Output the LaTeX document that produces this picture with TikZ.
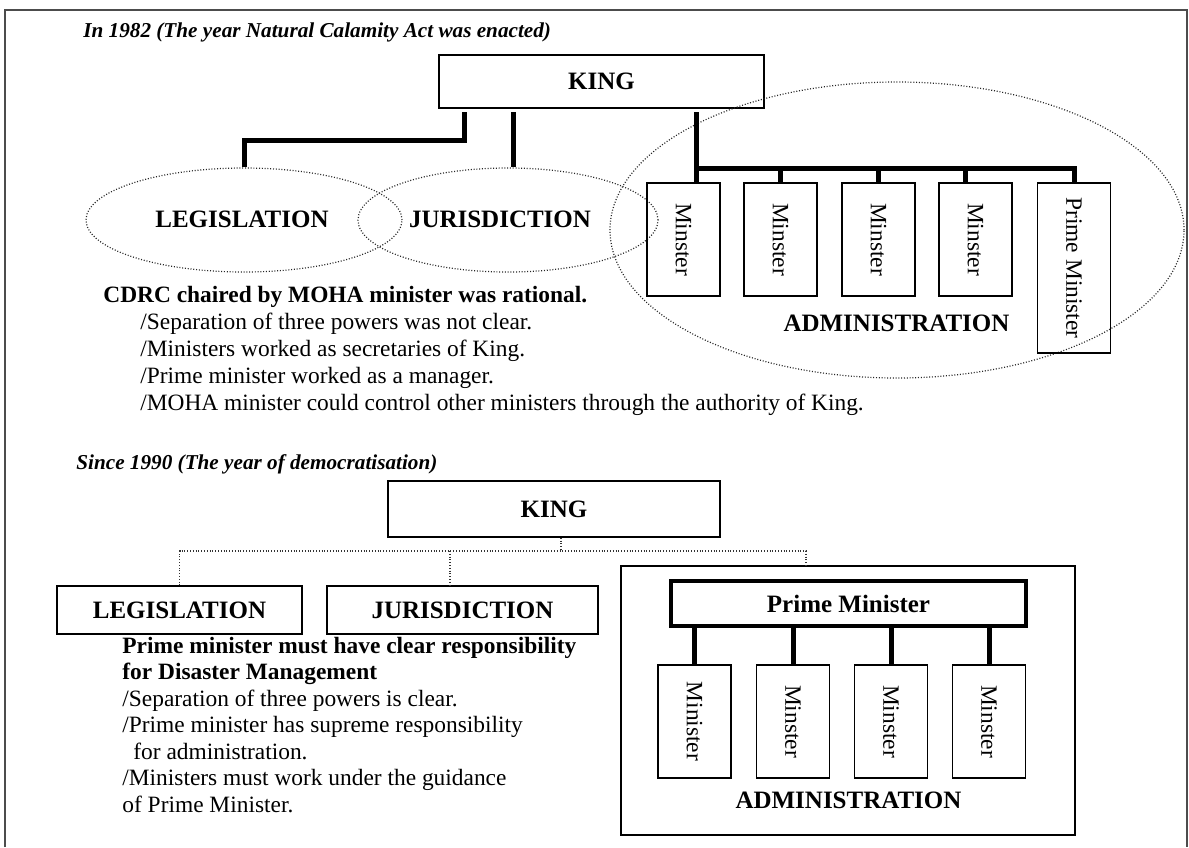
\documentclass[tikz,border=0pt]{standalone}
\usepackage{fontspec}
\setmainfont{Liberation Serif}
\usetikzlibrary{shapes.geometric}

\begin{document}
\begin{tikzpicture}[x=0.5pt,y=-0.5pt,
  box/.style={draw,line width=0.7pt,inner sep=0pt},
  lbl/.style={font=\fontsize{12.5}{14}\selectfont\bfseries,inner sep=0pt},
  ring/.style={ellipse,draw=black!85,line width=0.6pt,dash pattern=on 0.5pt off 0.9pt,inner sep=0pt},
  conn/.style={line width=2.5pt},
  dotline/.style={draw=black!80,line width=0.6pt,dash pattern=on 0.5pt off 0.9pt},
  mbox/.style={box,rotate=-90,minimum width=56.5pt,minimum height=36.5pt,font=\fontsize{11.7}{14}\selectfont},
  body/.style={anchor=base west,inner sep=0pt,font=\fontsize{11.7}{14}\selectfont},
  bodyb/.style={anchor=base west,inner sep=0pt,font=\fontsize{11.7}{14}\selectfont\bfseries},
  heading/.style={anchor=base west,inner sep=0pt,font=\fontsize{10.6}{12}\selectfont\bfseries\itshape},
]
\useasboundingbox (0,0) rectangle (1189,847);

% page frame (open at the bottom)
\draw[black!70,line width=0.7pt] (5,847) -- (5,10) -- (1187,10) -- (1187,847);

% ---------------- 1982 ----------------
\node[heading] (t1) at (83,37) {In 1982 (The year Natural Calamity Act was enacted)};
\node[box,lbl,minimum width=162.5pt,minimum height=26.5pt] (king1) at (601.5,81.5) {KING};

\node[ring,minimum width=158pt,minimum height=52pt] (ell1) at (244,220) {};
\node[ring,minimum width=150pt,minimum height=52pt] (ell2) at (508,220) {};
\node[ring,minimum width=287pt,minimum height=148pt] (ell3) at (897,230) {};
\node[lbl] (leg1) at (242,219) {LEGISLATION};
\node[lbl] (jur1) at (500,219) {JURISDICTION};

\node[mbox] (m1) at (683.5,239.5) {Minster};
\node[mbox] (m2) at (780.5,239.5) {Minster};
\node[mbox] (m3) at (878.5,239.5) {Minster};
\node[mbox] (m4) at (975.5,239.5) {Minster};
\node[mbox,minimum width=85pt] (pm) at (1074,268) {Prime Minister};
\node[lbl] (adm1) at (896.5,323) {ADMINISTRATION};

\coordinate (k1a) at (464,112);
\coordinate (k1b) at (513,112);
\coordinate (k1c) at (696,112);
\coordinate (bar) at (696,168);
\coordinate (s4) at (965,183);
\draw[conn] (k1a) -- ++(0,28) -| (ell1.north);
\draw[conn] (k1b) -- (k1b |- ell2.north);
\draw[conn] (k1c) -- (k1c |- m1.west);
\draw[conn] (bar) -| (pm.west);
\draw[conn] (m2.west |- bar) -- (m2.west);
\draw[conn] (m3.west |- bar) -- (m3.west);
\draw[conn] (s4 |- bar) -- (s4);

\node[bodyb] (c1) at (103,302) {CDRC chaired by MOHA minister was rational.};
\node[body] (c2) at (140,329) {/Separation of three powers was not clear.};
\node[body] (c3) at (140,356) {/Ministers worked as secretaries of King.};
\node[body] (c4) at (140,383) {/Prime minister worked as a manager.};
\node[body] (c5) at (140,410) {/MOHA minister could control other ministers through the authority of King.};

% ---------------- 1990 ----------------
\node[heading] (t2) at (76,469) {Since 1990 (The year of democratisation)};
\node[box,lbl,minimum width=166pt,minimum height=28pt] (king2) at (554,509) {KING};
\node[box,lbl,minimum width=122.5pt,minimum height=24pt] (leg2) at (179.5,610) {LEGISLATION};
\node[box,lbl,minimum width=135.5pt,minimum height=24pt] (jur2) at (462.5,610) {JURISDICTION};
\node[box,minimum width=227pt,minimum height=134.5pt] (admbox) at (848,700.5) {};
\node[draw,lbl,line width=2.25pt,minimum width=177.5pt,minimum height=22.5pt] (pm2) at (848.5,603.5) {Prime Minister};

\node[mbox] (b1) at (694.5,721.5) {Minister};
\node[mbox] (b2) at (793,721.5) {Minster};
\node[mbox] (b3) at (891,721.5) {Minster};
\node[mbox] (b4) at (989,721.5) {Minster};
\node[lbl] (adm2) at (848.5,800) {ADMINISTRATION};

\draw[conn] (b1.west |- pm2.south) -- (b1.west);
\draw[conn] (b2.west |- pm2.south) -- (b2.west);
\draw[conn] (b3.west |- pm2.south) -- (b3.west);
\draw[conn] (b4.west |- pm2.south) -- (b4.west);

\coordinate (hub) at (561,551);
\coordinate (jdrop) at (450,551);
\coordinate (adrop) at (806,551);
\draw[dotline] (hub |- king2.south) -- (hub);
\draw[dotline] (leg2.north) |- (adrop) -- (adrop |- admbox.north);
\draw[dotline] (jdrop) -- (jdrop |- jur2.north);

\node[bodyb] (p1) at (122,653) {Prime minister must have clear responsibility};
\node[bodyb] (p2) at (122,679.5) {for Disaster Management};
\node[body] (p3) at (122,706) {/Separation of three powers is clear.};
\node[body] (p4) at (122,732.5) {/Prime minister has supreme responsibility};
\node[body] (p5) at (133,759) {for administration.};
\node[body] (p6) at (122,785.5) {/Ministers must work under the guidance};
\node[body] (p7) at (122,812) {of Prime Minister.};
\end{tikzpicture}
\end{document}
